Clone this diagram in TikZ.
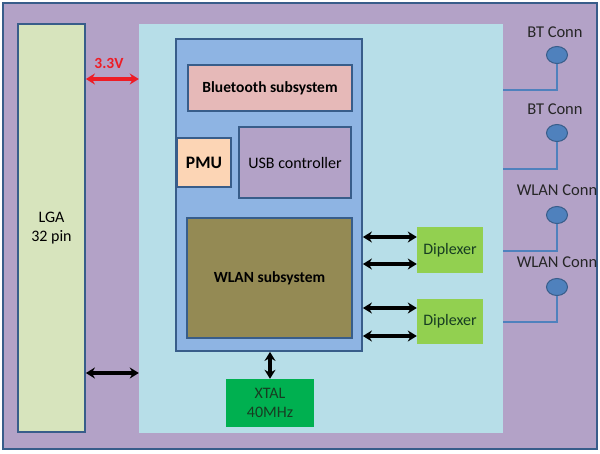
\documentclass[tikz,border=0pt]{standalone}
\usepackage{fontspec}
\setmainfont{Carlito}
\usetikzlibrary{shapes.geometric,arrows.meta}
\definecolor{frameblue}{HTML}{385D8A}
\definecolor{modpurple}{HTML}{B3A2C7}
\definecolor{lgagreen}{HTML}{D7E4BD}
\definecolor{boardblue}{HTML}{B7DEE8}
\definecolor{chipblue}{HTML}{8EB4E3}
\definecolor{btpink}{HTML}{E6B9B8}
\definecolor{pmuorange}{HTML}{FCD5B5}
\definecolor{wlanolive}{HTML}{948A54}
\definecolor{xtalgreen}{HTML}{00B050}
\definecolor{dipgreen}{HTML}{92D050}
\definecolor{antblue}{HTML}{4F81BD}
\definecolor{xtaltext}{HTML}{173D22}
\definecolor{pwrred}{HTML}{EE1C25}
\tikzset{
  blk/.style={draw=frameblue, line width=1.8pt, inner sep=0pt, align=center,
    font=\fontsize{16}{19}\selectfont},
  boldblk/.style={blk, font=\fontsize{15.5}{19}\selectfont\bfseries},
  flatblk/.style={inner sep=0pt, align=center, font=\fontsize{16}{19}\selectfont},
  dblarrow/.style={line width=3.2pt, {Stealth[length=9pt,width=11pt]}-{Stealth[length=9pt,width=11pt]}},
  antenna/.style={ellipse, draw=frameblue, fill=antblue, line width=1pt,
    minimum width=21pt, minimum height=17pt, inner sep=0pt},
  connlabel/.style={inner sep=0pt, text=black!85, font=\fontsize{16.5}{19}\selectfont},
  antline/.style={draw=antblue, line width=2.2pt}
}
\begin{document}
\begin{tikzpicture}[x=1pt, y=-1pt]
\useasboundingbox (0,0) rectangle (600,453);
\node[blk, fill=modpurple, minimum width=594pt, minimum height=446pt] (module) at (300,226) {};
\node[blk, fill=lgagreen, minimum width=67pt, minimum height=408pt] (lga) at (51.5,228) {LGA\\32 pin};
\node[flatblk, fill=boardblue, minimum width=364pt, minimum height=409pt] (board) at (321,228.5) {};
\node[blk, fill=chipblue, minimum width=186pt, minimum height=312pt] (chip) at (269,195) {};
\node[boldblk, fill=btpink, minimum width=164pt, minimum height=46pt] (bt) at (270,88) {Bluetooth subsystem};
\node[blk, fill=pmuorange, minimum width=54pt, minimum height=49pt,
  font=\fontsize{17.5}{19}\selectfont\bfseries] (pmu) at (204,162.5) {PMU};
\node[blk, fill=modpurple, minimum width=112pt, minimum height=71pt] (usb) at (295,162.5) {USB controller};
\node[boldblk, fill=wlanolive, minimum width=165pt, minimum height=120pt] (wlan) at (269.5,278) {WLAN subsystem};
\node[flatblk, fill=dipgreen, text=xtaltext, minimum width=66pt, minimum height=46pt] (dipa) at (450,250) {Diplexer};
\node[flatblk, fill=dipgreen, text=xtaltext, minimum width=66pt, minimum height=45pt] (dipb) at (450,321.5) {Diplexer};
\node[flatblk, fill=xtalgreen, text=xtaltext, minimum width=88pt, minimum height=48pt] (xtal) at (270,403) {XTAL\\40MHz};

\draw[dblarrow, pwrred] (lga.east |- 0,79) -- (board.west |- 0,79);
\node[inner sep=0pt, text=pwrred, font=\fontsize{15.5}{19}\selectfont\bfseries] (vcc) at (109,63) {3.3V};
\draw[dblarrow] (lga.east |- 0,373) -- (board.west |- 0,373);
\draw[dblarrow] (xtal.north) -- (chip.south -| xtal.north);
\draw[dblarrow] (chip.east |- 0,237) -- (dipa.west |- 0,237);
\draw[dblarrow] (chip.east |- 0,264) -- (dipa.west |- 0,264);
\draw[dblarrow] (chip.east |- 0,308) -- (dipb.west |- 0,308);
\draw[dblarrow] (chip.east |- 0,336) -- (dipb.west |- 0,336);

\node[connlabel] (btla) at (555,32) {BT Conn};
\node[antenna] (bta) at (557,55) {};
\node[connlabel] (btlb) at (555,109) {BT Conn};
\node[antenna] (btb) at (557,133) {};
\node[connlabel] (wllla) at (557,190) {WLAN Conn};
\node[connlabel] (wlllb) at (557,262) {WLAN Conn};
\node[antenna] (wla) at (557,215) {};
\node[antenna] (wlb) at (557,287) {};
\draw[antline] (bta.south) |- (board.east |- 0,90);
\draw[antline] (btb.south) |- (board.east |- 0,169);
\draw[antline] (wla.south) |- (board.east |- 0,251);
\draw[antline] (wlb.south) |- (board.east |- 0,322);
\end{tikzpicture}
\end{document}
